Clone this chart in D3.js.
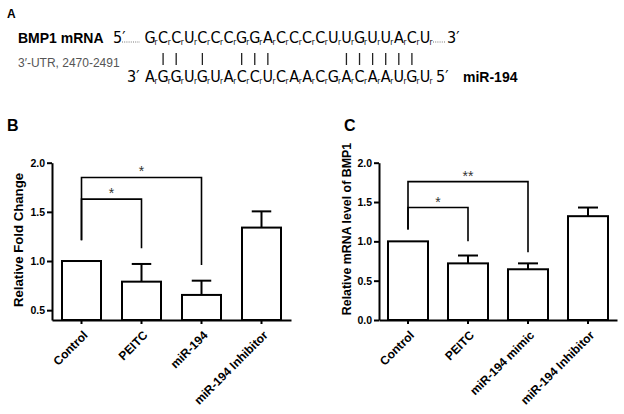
<!DOCTYPE html>
<html>
<head>
<meta charset="utf-8">
<script src="https://cdn.jsdelivr.net/npm/d3@7"></script>
<style>
  html, body { margin: 0; padding: 0; background: #fff; }
  svg { display: block; font-family: "Liberation Sans", Arial, sans-serif; }
</style>
</head>
<body>
<svg id="fig" width="624" height="414"></svg>
<script>
// Panel A: target site
const mrnaSeq = ["G","C","C","U","C","C","C","G","G","A","C","C","C","C","U","U","G","U","U","A","C","U"];
const mirSeq = ["A","G","G","U","G","U","A","C","C","U","C","A","A","C","G","A","C","A","A","U","G","U"];
const pairedCols = [1, 2, 4, 7, 8, 9, 15, 16, 17, 18, 19, 20];

// Panel B: luciferase fold change
const catsB = ["Control", "PEITC", "miR-194", "miR-194 Inhibitor"];
const foldChange = [1.0, 0.79, 0.655, 1.34];
const foldErr = [0, 0.18, 0.145, 0.165];
const yTicksB = [0.5, 1.0, 1.5, 2.0];
const sigB = [
  { from: 0, to: 1, level: 1.63, leftEnd: 1.21, rightEnd: 1.13, label: "*" },
  { from: 0, to: 2, level: 1.85, leftEnd: 1.21, rightEnd: 0.96, label: "*" }
];

// Panel C: BMP1 mRNA
const catsC = ["Control", "PEITC", "miR-194 mimic", "miR-194 Inhibitor"];
const mrnaLevel = [1.0, 0.72, 0.645, 1.32];
const mrnaErr = [0, 0.10, 0.075, 0.11];
const yTicksC = [0.0, 0.5, 1.0, 1.5, 2.0];
const sigC = [
  { from: 0, to: 1, level: 1.43, leftEnd: 1.15, rightEnd: 1.0, label: "*" },
  { from: 0, to: 2, level: 1.76, leftEnd: 1.15, rightEnd: 0.86, label: "**" }
];

const svg = d3.select("#fig");

// ---------- panel A ----------
const gA = svg.append("g");
gA.append("text").attr("x", 7).attr("y", 18)
  .style("font-weight", "bold").style("font-size", "12px").text("A");
gA.append("text").attr("x", 18).attr("y", 43)
  .style("font-weight", "bold").style("font-size", "14px").text("BMP1 mRNA");
gA.append("text").attr("x", 18).attr("y", 67)
  .style("font-size", "12px").style("fill", "#555").text("3\u2032-UTR, 2470-2491");
gA.append("text").attr("x", 463).attr("y", 82)
  .style("font-weight", "bold").style("font-size", "14px").text("miR-194");

const col = d3.scaleLinear().domain([0, mrnaSeq.length - 1]).range([150, 425]);
const seqFont = "'Liberation Sans Narrow', 'DejaVu Sans Condensed', sans-serif";

function drawStrand(seq, baseline) {
  const g = gA.append("g").style("font-family", seqFont);
  seq.forEach((b, i) => {
    g.append("text").attr("x", col(i)).attr("y", baseline)
      .attr("text-anchor", "middle").style("font-size", "16px").text(b);
    g.append("text").attr("x", col(i) + 4.6).attr("y", baseline + 2)
      .style("font-size", "8px").text("r");
  });
  return g;
}
const upper = drawStrand(mrnaSeq, 43);
const lower = drawStrand(mirSeq, 82);
upper.append("text").attr("x", 113).attr("y", 43).style("font-size", "16px").text("5\u2032");
upper.append("text").attr("x", 447).attr("y", 43).style("font-size", "16px").text("3\u2032");
lower.append("text").attr("x", 127).attr("y", 82).style("font-size", "16px").text("3\u2032");
lower.append("text").attr("x", 436).attr("y", 82).style("font-size", "16px").text("5\u2032");

[[122, 140], [433, 445]].forEach(([a, b]) => {
  gA.append("line").attr("x1", a).attr("x2", b).attr("y1", 42).attr("y2", 42)
    .attr("stroke", "#777").attr("stroke-width", 1).attr("stroke-dasharray", "1,1.2");
});

gA.selectAll("line.pair").data(pairedCols).join("line")
  .attr("class", "pair")
  .attr("x1", d => col(d)).attr("x2", d => col(d))
  .attr("y1", 53).attr("y2", 65)
  .attr("stroke", "#222").attr("stroke-width", 1.3);

// ---------- bar panels ----------
function barPanel(opt) {
  const g = svg.append("g");
  const x = d3.scaleBand().domain(opt.cats)
    .range([opt.x0, opt.x1]).paddingInner(opt.pi).paddingOuter(opt.po);
  const y = d3.scaleLinear().domain(opt.domain).range([320, 162.7]);

  g.append("text").attr("x", opt.letterX).attr("y", 131)
    .style("font-weight", "bold").style("font-size", "16px").text(opt.letter);

  // bars
  g.selectAll("rect.bar").data(opt.values).join("rect")
    .attr("class", "bar")
    .attr("x", (d, i) => x(opt.cats[i]))
    .attr("width", x.bandwidth())
    .attr("y", d => y(d))
    .attr("height", d => y(opt.domain[0]) - y(d))
    .attr("fill", "#fff").attr("stroke", "#000").attr("stroke-width", 2);

  // error bars (upper only)
  const eb = g.selectAll("g.err").data(opt.values.map((v, i) => ({ v, e: opt.errs[i], c: opt.cats[i] })).filter(d => d.e > 0))
    .join("g").attr("class", "err");
  eb.append("line")
    .attr("x1", d => x(d.c) + x.bandwidth() / 2).attr("x2", d => x(d.c) + x.bandwidth() / 2)
    .attr("y1", d => y(d.v)).attr("y2", d => y(d.v + d.e))
    .attr("stroke", "#000").attr("stroke-width", 2);
  eb.append("line")
    .attr("x1", d => x(d.c) + x.bandwidth() / 4).attr("x2", d => x(d.c) + x.bandwidth() * 3 / 4)
    .attr("y1", d => y(d.v + d.e)).attr("y2", d => y(d.v + d.e))
    .attr("stroke", "#000").attr("stroke-width", 2);

  // significance brackets
  const cx = i => x(opt.cats[i]) + x.bandwidth() / 2;
  opt.sig.forEach(s => {
    g.append("path")
      .attr("d", `M${cx(s.from)},${y(s.leftEnd)}V${y(s.level)}H${cx(s.to)}V${y(s.rightEnd)}`)
      .attr("fill", "none").attr("stroke", "#000").attr("stroke-width", 1.6);
    g.append("text").attr("x", (cx(s.from) + cx(s.to)) / 2).attr("y", y(s.level) - 1)
      .attr("text-anchor", "middle").style("font-size", "14px").style("fill", "#333")
      .text(s.label);
  });

  // axes
  const yAxis = g.append("g").attr("transform", `translate(${opt.x0},0)`)
    .call(d3.axisLeft(y).tickValues(opt.ticks).tickFormat(d3.format(".1f")).tickSize(5).tickSizeOuter(0));
  const xAxis = g.append("g").attr("transform", "translate(0,320)")
    .call(d3.axisBottom(x).tickSize(4).tickSizeOuter(0));
  [yAxis, xAxis].forEach(a => {
    a.selectAll("path, line").attr("stroke", "#000").attr("stroke-width", 2);
    a.selectAll("text").style("font-weight", "bold").style("fill", "#000")
      .style("font-family", "'Liberation Sans', Arial, sans-serif");
  });
  yAxis.selectAll("text").style("font-size", "10.5px").attr("x", -7);
  xAxis.selectAll("text").style("font-size", "12px")
    .attr("text-anchor", "end").attr("dy", "0.35em").attr("y", 0)
    .attr("transform", "translate(4,13) rotate(-45)").attr("x", 0);

  g.append("text")
    .attr("transform", `translate(${opt.labelX},${opt.labelY}) rotate(-90)`)
    .attr("text-anchor", "middle")
    .style("font-weight", "bold").style("font-size", opt.labelSize)
    .text(opt.ylabel);
}

barPanel({
  letter: "B", letterX: 7, cats: catsB, values: foldChange, errs: foldErr,
  domain: [0.4, 2.0], ticks: yTicksB, sig: sigB,
  x0: 52, x1: 291, pi: 0.35, po: 0.1667,
  ylabel: "Relative Fold Change", labelX: 23, labelY: 240, labelSize: "13.2px"
});
barPanel({
  letter: "C", letterX: 344, cats: catsC, values: mrnaLevel, errs: mrnaErr,
  domain: [0, 2.0], ticks: yTicksC, sig: sigC,
  x0: 379, x1: 617, pi: 0.3333, po: 0.15,
  ylabel: "Relative mRNA level of BMP1", labelX: 351, labelY: 229, labelSize: "12.4px"
});
</script>
</body>
</html>
